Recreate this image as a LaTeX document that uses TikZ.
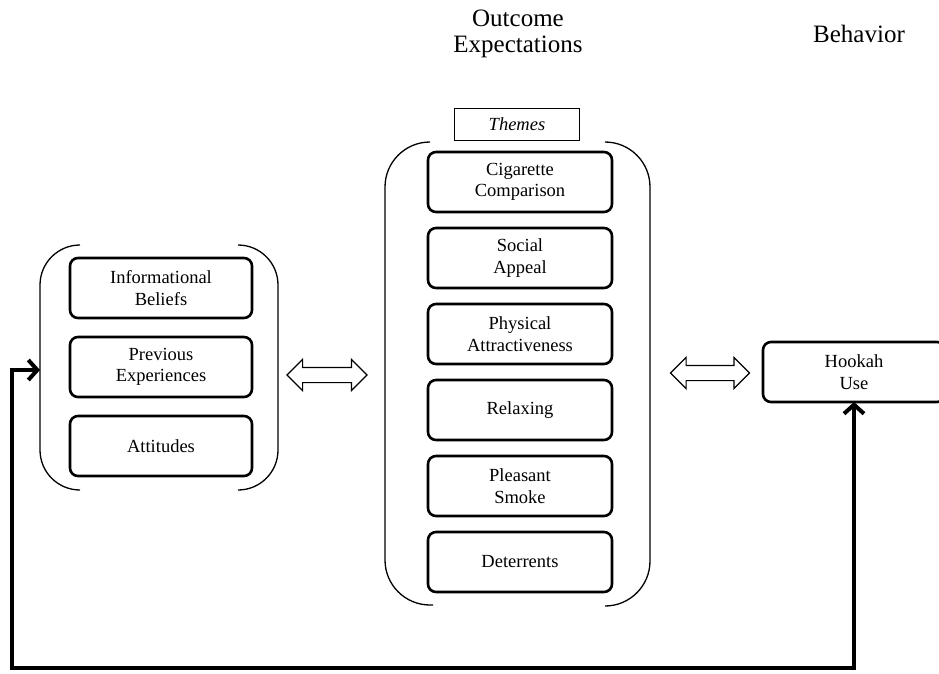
\documentclass[tikz,border=0pt]{standalone}
\usepackage{fontspec}
\setmainfont{Liberation Serif}
\usetikzlibrary{arrows.meta,positioning,shapes.arrows}

\begin{document}
\begin{tikzpicture}[x=1pt,y=1pt,
        node distance=17pt,
        caja/.style={draw,line width=2.6pt,rounded corners=8pt,align=center,
                     minimum width=182pt,minimum height=60pt,inner sep=2pt,outer sep=0pt,
                     font=\fontsize{18.5}{21.5}\selectfont},
        titulo/.style={align=center,font=\fontsize{25}{26}\selectfont},
        llave/.style={line width=1.3pt,rounded corners=40pt},
        dobleflecha/.style={double arrow,draw,line width=1.2pt,
                     minimum height=80pt,inner xsep=0pt,inner ysep=7pt,
                     double arrow head extend=8pt,double arrow head indent=0pt},
        retorno/.style={line width=4pt,{Straight Barb[length=9pt,width=20pt]}-{Straight Barb[length=9pt,width=20pt]}}]
      \clip (0,0) rectangle (939,-673);
      % titulos
      \node[titulo] (oe) at (518,-34) {Outcome\\Expectations};
      \node[titulo] (be) at (859,-34) {Behavior};
      % grupo izquierdo
      \node[caja] (ib) at (161,-288) {Informational\\Beliefs};
      \node[caja,below=19pt of ib] (pe) {Previous\\Experiences};
      \node[caja,below=19pt of pe] (at) {Attitudes};
      \draw[llave] (80,-245) -- (40,-245) -- (40,-490) -- (80,-490);
      \draw[llave] (238,-245) -- (278,-245) -- (278,-490) -- (238,-490);
      \coordinate (lbin) at (40,-370);
      % grupo central
      \node[draw,line width=0.8pt,minimum width=125pt,minimum height=32pt,
            font=\fontsize{18.5}{21}\selectfont\itshape] (th) at (517,-124) {Themes};
      \node[caja,minimum width=184pt] (cc) at (520,-182) {Cigarette\\Comparison};
      \node[caja,minimum width=184pt,below=16pt of cc] (sa) {Social\\Appeal};
      \node[caja,minimum width=184pt,below=16pt of sa] (pa) {Physical\\Attractiveness};
      \node[caja,minimum width=184pt,below=16pt of pa] (re) {Relaxing};
      \node[caja,minimum width=184pt,below=16pt of re] (ps) {Pleasant\\Smoke};
      \node[caja,minimum width=184pt,below=16pt of ps] (de) {Deterrents};
      \draw[llave,rounded corners=45pt] (430,-142) -- (385,-142) -- (385,-605) -- (433,-605);
      \draw[llave,rounded corners=45pt] (607,-142) -- (650,-142) -- (650,-606) -- (608,-606);
      % comportamiento
      \node[caja] (hu) at (854,-372) {Hookah\\Use};
      % flechas dobles
      \node[dobleflecha] (da1) at (327,-375) {};
      \node[dobleflecha,minimum height=79pt] (da2) at (710,-373) {};
      % retroalimentacion
      \coordinate (fbl) at (12,-668);
      \draw[retorno] (lbin) -| (fbl) -| (hu.south);
    \end{tikzpicture}
\end{document}
